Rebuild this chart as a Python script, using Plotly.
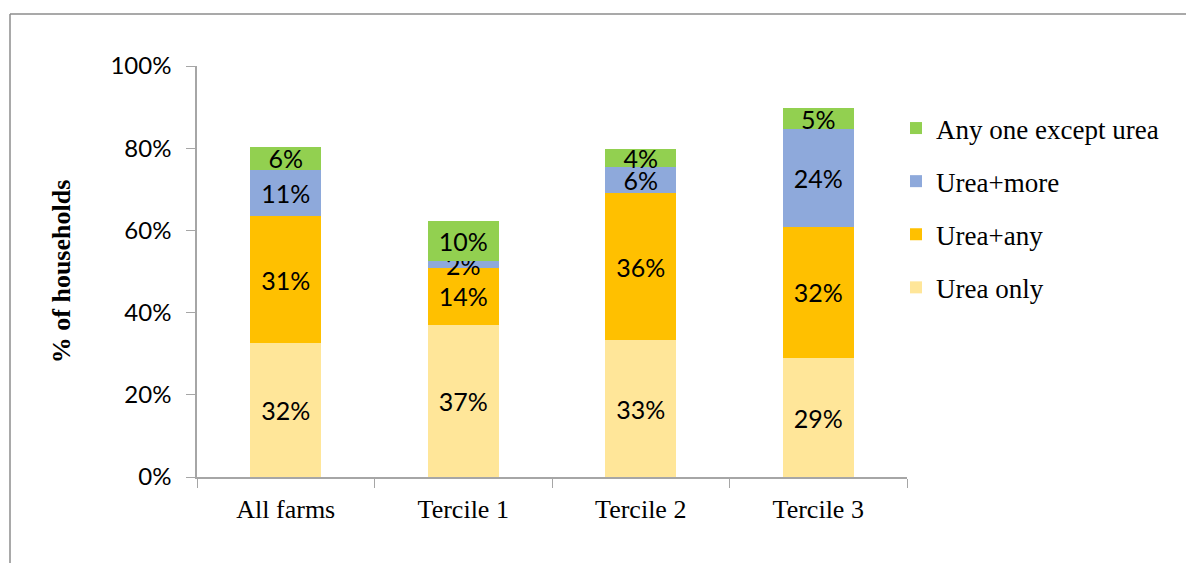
import plotly.graph_objects as go

categories = ["All farms", "Tercile 1", "Tercile 2", "Tercile 3"]
urea_only = [32.5, 37.0, 33.3, 28.9]
urea_any = [31.0, 13.9, 35.8, 32.0]
urea_more = [11.3, 1.6, 6.4, 23.7]
any_except = [5.6, 9.7, 4.3, 5.1]

series_names = ["Urea only", "Urea+any", "Urea+more", "Any one except urea"]
series_values = [urea_only, urea_any, urea_more, any_except]
series_colors = ["#FFE699", "#FFC000", "#8EA9DB", "#92D050"]

# page body adds an 8px offset; target pixel geometry of the plot area
OFF = 8
W, H = 1194, 563
L, R, T, B = 197, 287, 66, 86
pw, ph = W - L - R, H - T - B

fig = go.Figure()
for i, (name, vals, col) in enumerate(zip(series_names, series_values, series_colors)):
    fig.add_trace(go.Bar(
        x=categories, y=vals, name=name, marker=dict(color=col, line=dict(width=0)),
        text=[f"{v:.0f}%" for v in vals], textposition="inside",
        insidetextanchor="middle", textangle=0,
        textfont=dict(family="Lato, Carlito, sans-serif", size=25, color="black"),
        legendgroup=name, legendrank=100 - i, hoverinfo="skip",
    ))

def px_x(px):
    return (px - L) / pw

def px_y(py):
    return (H - B - py) / ph

fig.update_layout(
    width=W - OFF, height=H - OFF, barmode="stack", bargap=0.6,
    margin=dict(l=L - OFF, r=R, t=T - OFF, b=B),
    paper_bgcolor="white", plot_bgcolor="white",
    uniformtext=dict(minsize=25, mode="show"),
    legend=dict(
        x=px_x(896), y=px_y(104), xanchor="left", yanchor="top",
        traceorder="grouped", tracegroupgap=15,
        font=dict(family="Liberation Serif, serif", size=27, color="black"),
        itemwidth=30, bgcolor="rgba(0,0,0,0)",
    ),
    xaxis=dict(
        showline=True, linecolor="#A6A6A6", linewidth=1.5,
        ticks="outside", tickson="boundaries", ticklen=9, tickcolor="#A6A6A6",
        tickfont=dict(family="Liberation Serif, serif", size=26, color="black"),
        ticklabelstandoff=8,
    ),
    yaxis=dict(
        range=[0, 100], dtick=20, ticksuffix="%", showgrid=False, zeroline=False,
        showline=True, linecolor="#A6A6A6", linewidth=1.5,
        ticks="outside", ticklen=9, tickcolor="#A6A6A6",
        tickfont=dict(family="Lato, Carlito, sans-serif", size=24, color="black"),
        ticklabelstandoff=10,
        title=dict(text="<b>% of households</b>", standoff=32,
                   font=dict(family="Liberation Serif, serif", size=26, color="black")),
    ),
    shapes=[
        dict(type="line", xref="paper", yref="paper",
             x0=px_x(10), x1=px_x(1200), y0=px_y(14), y1=px_y(14),
             line=dict(color="#8C8C8C", width=1.5)),
        dict(type="line", xref="paper", yref="paper",
             x0=px_x(10), x1=px_x(10), y0=px_y(14), y1=px_y(570),
             line=dict(color="#8C8C8C", width=1.5)),
    ],
)

fig.write_html("out.html")
